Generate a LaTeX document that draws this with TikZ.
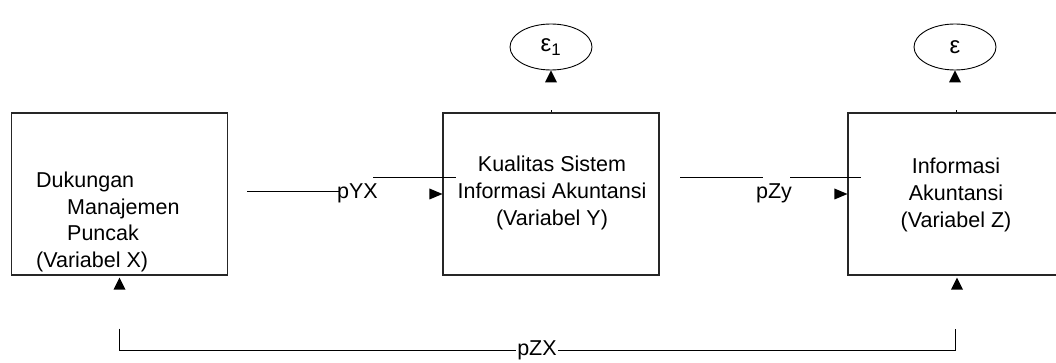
\documentclass[tikz,border=0pt]{standalone}
\usepackage{fontspec}
\setmainfont{Liberation Sans}
\usetikzlibrary{positioning,shapes.geometric,calc}

\begin{document}
\begin{tikzpicture}[
    x=1pt, y=-1pt,
    varbox/.style={draw=black!85, line width=1.1pt, minimum width=216pt, minimum height=162pt, inner sep=0pt},
    errnode/.style={ellipse, draw=black, line width=0.9pt, minimum width=82pt, minimum height=46pt, inner sep=0pt, font=\fontsize{24}{24}\selectfont},
    txt/.style={font=\fontsize{21.5}{26.7}\selectfont, inner sep=0pt},
    linkline/.style={black, line width=0.9pt},
  ]

  \useasboundingbox (0,0) rectangle (1056,363);
  \clip (0,0) rectangle (1056,363);

  % ---------- variables ----------
  \node[varbox] (X) at (119.5,194) {};
  \node[varbox] (Y) at (551,194) {};
  \node[varbox] (Z) at (956,194) {};

  \node[txt, align=left, anchor=west] (Xlabel) at (36,222)
    {Dukungan\\\hspace*{31pt}Manajemen\\\hspace*{31pt}Puncak\\(Variabel X)};
  \node[txt, align=center] (Ylabel) at (552,193)
    {Kualitas Sistem\\Informasi Akuntansi\\(Variabel Y)};
  \node[txt, align=center] (Zlabel) at (956,195)
    {Informasi\\Akuntansi\\(Variabel Z)};

  % ---------- error terms ----------
  \node[errnode] (e1) at (551,47) {ε\textsubscript{1}};
  \node[errnode] (e2) at (955,47) {ε};

  % ---------- arrow heads ----------
  \coordinate (tX) at ($(X.south)+(0,2)$);
  \coordinate (tZ) at ($(Z.south)+(1,2)$);
  \foreach \t in {e1.south,e2.south,tX,tZ}
    \fill (\t) -- ++(-6,12) -- ++(12,0) -- cycle;
  \foreach \t in {Y.west,Z.west}
    \fill (\t) -- ++(-13,-5.5) -- ++(0,11) -- cycle;
  \draw[linkline] (Y.north) -- ++(0,-2);
  \draw[linkline] (Z.north) -- ++(0,-2);

  % ---------- paths ----------
  \node[txt] (pYX) at (357.5,193) {pYX};
  \node[txt] (pZy) at (774,193) {pZy};
  \node[txt, fill=white, inner xsep=1pt] (pZX) at (537,350) {pZX};

  \coordinate (aYX) at (247,191);
  \coordinate (bYX) at (373,177);
  \draw[linkline] (aYX) -- ($(aYX -| pYX.west)+(2,0)$);
  \draw[linkline] (bYX) -- ($(bYX -| Y.west)+(14,0)$);

  \coordinate (aZy) at (680,177);
  \coordinate (bZy) at (790,177);
  \draw[linkline] (aZy) -- (763,177);
  \draw[linkline] (bZy) -- ($(bZy -| Z.west)+(14,0)$);

  \draw[linkline] ($(tX)+(0,51)$) |- (pZX.west);
  \draw[linkline] (pZX.east) -| ($(tZ)+(-2,51)$);

\end{tikzpicture}
\end{document}
